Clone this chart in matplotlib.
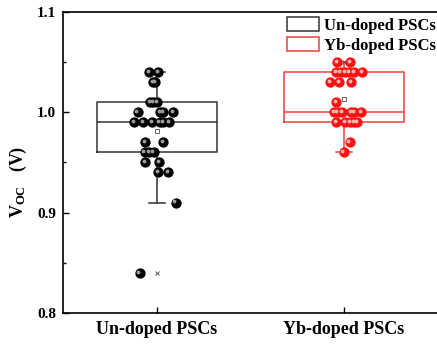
import numpy as np
import matplotlib
matplotlib.use("Agg")
from matplotlib import pyplot as plt
from matplotlib import transforms
from matplotlib.patches import Patch

groups = ["Un-doped PSCs", "Yb-doped PSCs"]

# Voc values (V), with the horizontal jitter of each point
undoped_voc = [1.04, 1.04, 1.03, 1.03, 1.01, 1.01, 1.01,
               1.00, 1.00, 1.00, 1.00,
               0.99, 0.99, 0.99, 0.99, 0.99, 0.99,
               0.97, 0.97, 0.96, 0.96, 0.96, 0.95, 0.95,
               0.94, 0.94, 0.91, 0.84]
undoped_jit = [-0.043, 0.007, -0.021, -0.009, -0.036, -0.021, 0.0,
               -0.103, 0.018, 0.032, 0.086,
               -0.121, -0.075, -0.025, 0.014, 0.032, 0.064,
               -0.063, 0.032, -0.066, -0.043, -0.018, -0.063, 0.011,
               0.005, 0.059, 0.100, -0.093]

yb_voc = [1.05, 1.05,
          1.04, 1.04, 1.04, 1.04, 1.04, 1.04,
          1.03, 1.03, 1.03, 1.01,
          1.00, 1.00, 1.00, 1.00, 1.00, 1.00,
          0.99, 0.99, 0.99, 0.99, 0.99,
          0.97, 0.96]
yb_jit = [-0.037, 0.034,
          -0.044, -0.018, 0.007, 0.027, 0.052, 0.098,
          -0.073, -0.027, 0.036, -0.041,
          -0.055, -0.034, -0.012, 0.037, 0.055, 0.093,
          -0.041, 0.007, 0.032, 0.052, 0.070,
          0.030, -0.002]

# box statistics as drawn in the figure
box_q1 = [0.96, 0.99]
box_med = [0.99, 1.00]
box_q3 = [1.01, 1.04]
whis_lo = [0.91, 0.96]
whis_hi = [1.04, 1.05]
box_mean = [0.981, 1.013]

line_cols = ["#333333", "#e8413c"]
dot_cols = ["#000000", "#ff1010"]
hi_cols = ["#9a9a9a", "#ffb0b0"]

plt.rcParams["font.family"] = ["Liberation Serif", "Noto Sans CJK SC"]
plt.rcParams["font.weight"] = "bold"
plt.rcParams["mathtext.fontset"] = "custom"
plt.rcParams["mathtext.rm"] = "Liberation Serif:bold"
plt.rcParams["mathtext.it"] = "Liberation Serif:bold"

fig = plt.figure(figsize=(4.37, 3.49), dpi=100)
ax = fig.add_axes([0.144, 0.103, 0.856, 0.863])

pos = [1, 2]
all_voc = [undoped_voc, yb_voc]
all_jit = [undoped_jit, yb_jit]

for i in range(2):
    st = [dict(q1=box_q1[i], med=box_med[i], q3=box_q3[i], whislo=whis_lo[i],
               whishi=whis_hi[i], mean=box_mean[i], fliers=[])]
    ax.bxp(st, positions=[pos[i]], widths=0.645, showmeans=True, showfliers=False,
           boxprops=dict(color=line_cols[i], linewidth=1.1),
           medianprops=dict(color=line_cols[i], linewidth=1.1),
           whiskerprops=dict(color=line_cols[i], linewidth=1.1),
           capprops=dict(color=line_cols[i], linewidth=1.1),
           capwidths=0.085,
           meanprops=dict(marker="s", markersize=3.5, markerfacecolor="white",
                          markeredgecolor="#666666", markeredgewidth=0.7),
           zorder=2)
    xs = pos[i] + np.array(all_jit[i])
    ys = np.array(all_voc[i])
    ax.plot(xs, ys, "o", color=dot_cols[i], markersize=6.4, zorder=3, linestyle="none")
    hl = transforms.offset_copy(ax.transData, fig=fig, x=-0.9, y=0.9, units="points")
    ax.plot(xs, ys, "o", color=hi_cols[i], markersize=1.8, zorder=4,
            linestyle="none", transform=hl)
    # min / max markers
    ax.plot([pos[i], pos[i]], [min(all_voc[i]), max(all_voc[i])], "x",
            color="#555555", markersize=3, markeredgewidth=0.7, zorder=2,
            linestyle="none")

ax.set_xlim(0.497, 2.497)
ax.set_ylim(0.8, 1.1)
ax.set_xticks(pos)
ax.set_xticklabels(groups, fontsize=13, fontweight="bold")
ax.set_yticks([0.8, 0.9, 1.0, 1.1])
ax.set_yticklabels(["0.8", "0.9", "1.0", "1.1"], fontsize=11, fontweight="bold")
ax.set_yticks([0.85, 0.95, 1.05], minor=True)
ax.tick_params(axis="both", which="major", direction="in", length=4, width=1)
ax.tick_params(axis="y", which="minor", direction="in", length=2.5, width=1)
ax.tick_params(axis="x", pad=6)
ax.tick_params(axis="y", pad=5)
for s in ["left", "bottom", "top"]:
    ax.spines[s].set_linewidth(1.2)
ax.spines["right"].set_visible(False)

fig.text(18 / 437, 1 - 182 / 349, "V$_{\\mathrm{OC}}$   (V)", rotation=90,
         fontsize=13, fontweight="bold", ha="center", va="center")

handles = [Patch(facecolor="white", edgecolor=line_cols[0], linewidth=1.1, label=groups[0]),
           Patch(facecolor="white", edgecolor=line_cols[1], linewidth=1.1, label=groups[1])]
ax.legend(handles=handles, loc="upper right", bbox_to_anchor=(1.025, 1.015),
          frameon=False, handlelength=1.95, handleheight=0.9,
          handletextpad=0.3, labelspacing=0.2, borderaxespad=0.2,
          prop=dict(weight="bold", size=12))

fig.savefig("out.png", dpi=100)
